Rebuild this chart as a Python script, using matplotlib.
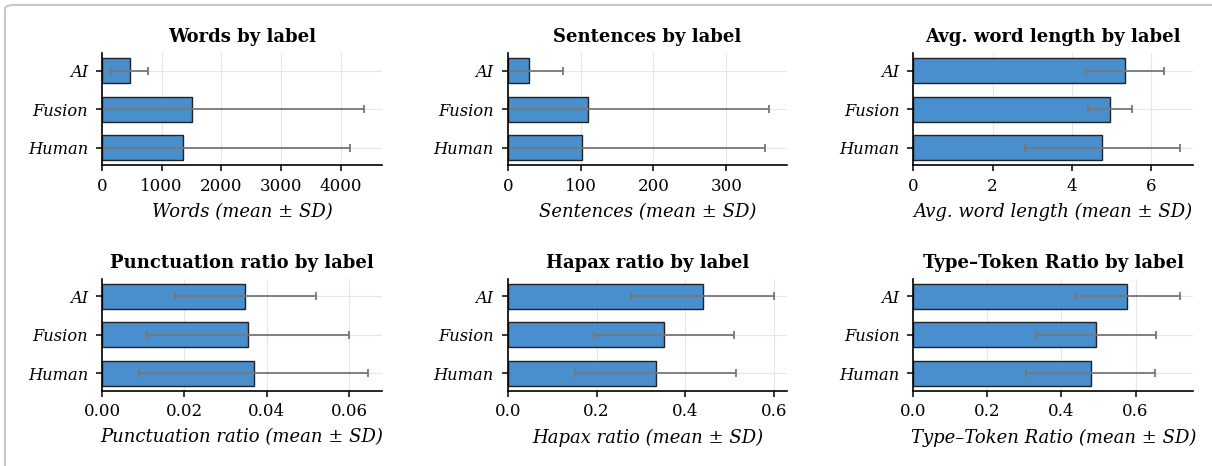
import matplotlib
matplotlib.use("Agg")
import matplotlib.pyplot as plt
from matplotlib.patches import FancyBboxPatch
import numpy as np

labels = ["AI", "Fusion", "Human"]

words_mean = [465, 1510, 1360]
words_sd = [308, 2890, 2806]
sent_mean = [29, 110, 101.4]
sent_sd = [47, 248.6, 251.6]
awl_mean = [5.34, 4.97, 4.77]
awl_sd = [0.98, 0.565, 1.96]
punct_mean = [0.0348, 0.0355, 0.03685]
punct_sd = [0.0170, 0.0245, 0.0278]
hapax_mean = [0.4388, 0.352, 0.333]
hapax_sd = [0.161, 0.157, 0.182]
ttr_mean = [0.578, 0.4925, 0.479]
ttr_sd = [0.1415, 0.1615, 0.174]

panels = [
    ("Words", words_mean, words_sd),
    ("Sentences", sent_mean, sent_sd),
    ("Avg. word length", awl_mean, awl_sd),
    ("Punctuation ratio", punct_mean, punct_sd),
    ("Hapax ratio", hapax_mean, hapax_sd),
    ("Type\u2013Token Ratio", ttr_mean, ttr_sd),
]

plt.rcParams["font.family"] = ["DejaVu Serif"]

fig = plt.figure(figsize=(12.12, 4.66), dpi=100)

# card border
card = FancyBboxPatch((5 / 1212, -0.2), 1.2, (466 - 5) / 466 + 0.2,
                      boxstyle="round,pad=0,rounding_size=0.008",
                      transform=fig.transFigure, facecolor="white",
                      edgecolor="#c8c8c8", linewidth=1.5, zorder=-10)
fig.patches.append(card)

lefts = [0.0842, 0.4189, 0.7536]
bottoms = [0.6453, 0.1616]
w = 0.2308
h = 0.2405

for i, (name, mean, sd) in enumerate(panels):
    r, c = divmod(i, 3)
    ax = fig.add_axes([lefts[c], bottoms[r], w, h])
    ax.set_facecolor("none")
    y = np.arange(len(labels))
    ax.barh(y, mean, xerr=sd, height=0.65, color="#3f88cb", alpha=0.95,
            edgecolor="#1a1a1a", linewidth=1.0,
            error_kw=dict(ecolor="#777777", elinewidth=1.3, capsize=3,
                          capthick=1.3), zorder=2)
    ax.set_yticks(y)
    ax.set_yticklabels(labels, fontstyle="italic", fontsize=11.7)
    ax.invert_yaxis()
    ax.set_xlim(left=0)
    ax.tick_params(axis="x", labelsize=12, length=4.5, width=1.1, pad=4.5)
    ax.tick_params(axis="y", length=4.5, width=1.1, pad=5.5)
    ax.grid(True, color="#e6e6e6", linewidth=0.8, zorder=0)
    ax.set_axisbelow(True)
    for s in ("top", "right"):
        ax.spines[s].set_visible(False)
    for s in ("left", "bottom"):
        ax.spines[s].set_linewidth(1.2)
    ax.set_title(f"{name} by label", fontsize=13, fontweight="bold", pad=8)
    ax.set_xlabel(f"{name} (mean \u00b1 SD)", fontsize=13, fontstyle="italic",
                  labelpad=6)

fig.savefig("out.png", dpi=100, facecolor="white")
